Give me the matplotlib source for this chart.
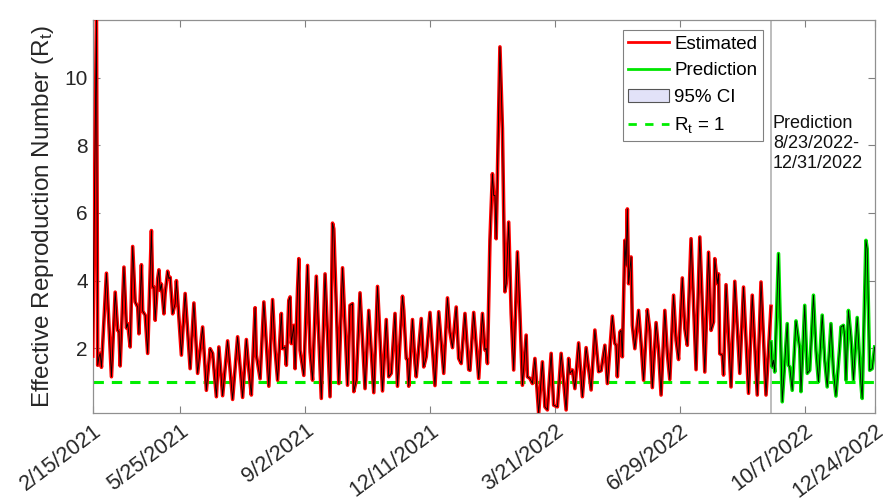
import matplotlib
matplotlib.use('Agg')
import matplotlib.pyplot as plt
from matplotlib.lines import Line2D
from matplotlib.patches import Patch

plt.rcParams['font.family'] = ['Liberation Sans', 'DejaVu Sans']

# estimated Rt (day index from start of series)
est_day = [0, 3, 4, 5, 6, 7, 11, 15, 18, 20, 21, 22, 25, 27, 28, 30, 32, 34, 36, 37,
           39, 40, 42, 44, 47, 48, 49, 50, 52, 53, 54, 55, 57, 58, 60, 61, 62, 64, 66, 67,
           71, 74, 78, 81, 84, 88, 91, 94, 96, 99, 101, 104, 108, 112, 116, 120, 123, 125, 127, 130,
           131, 134, 137, 141, 144, 146, 148, 151, 152, 154, 155, 157, 158, 159, 161, 162, 164, 165, 166, 169,
           172, 174, 176, 179, 183, 186, 190, 192, 193, 197, 200, 204, 206, 208, 209, 211, 214, 218, 221, 225,
           228, 232, 235, 237, 239, 242, 244, 248, 249, 251, 252, 253, 256, 258, 259, 263, 265, 267, 270, 274,
           277, 281, 284, 286, 288, 291, 293, 295, 298, 301, 302, 305, 309, 312, 314, 315, 316, 318, 320, 321,
           322, 323, 326, 328, 330, 331, 333, 335, 337, 340, 342, 344, 347, 348, 350, 352, 354, 357, 360, 362,
           364, 367, 369, 372, 375, 379, 381, 382, 384, 386, 389, 392, 395, 399, 402, 405, 407, 410, 412, 416,
           418, 419, 420, 422, 423, 424, 426, 427, 428, 429, 431, 432, 434, 437, 439, 441, 444, 446, 448, 451,
           453, 455, 458, 460, 462, 465, 467, 469, 472, 474, 476, 479, 483, 486, 490, 493, 495, 497, 498, 500,
           501, 502, 504, 505, 507, 511, 514, 518, 521, 525, 528, 532, 535, 539, 543]
est_rt = [1.77, 11.7, 1.5, 1.74, 1.85, 1.44, 4.22, 1.16, 3.66, 2.53, 2.5, 1.48, 4.4, 2.6, 2.73, 2.04, 5.01, 3.37, 3.22, 2.43,
          4.47, 3.1, 2.98, 1.85, 5.48, 3.81, 3.81, 2.83, 4.06, 4.32, 3.71, 3.9, 3.02, 3.62, 4.28, 4.06, 4.1, 3.02, 3.32, 4.0,
          1.8, 3.62, 1.4, 3.34, 1.26, 2.63, 0.76, 1.99, 1.85, 0.57, 2.04, 0.6, 2.22, 0.49, 2.34, 0.55, 2.26, 1.35, 0.62, 3.2,
          1.8, 1.1, 3.37, 0.88, 3.44, 1.94, 1.06, 3.03, 1.99, 2.04, 1.5, 3.42, 3.52, 2.14, 2.68, 1.4, 3.76, 4.65, 1.94, 1.2,
          4.45, 1.89, 1.06, 4.13, 0.52, 4.2, 0.57, 5.7, 5.53, 0.96, 4.38, 0.91, 3.27, 3.32, 0.72, 1.06, 3.64, 0.81, 3.12, 0.69,
          3.83, 0.74, 2.85, 1.16, 1.26, 3.03, 0.88, 3.54, 3.12, 1.7, 1.67, 0.88, 2.85, 1.55, 1.16, 2.88, 1.45, 1.75, 3.06, 0.9,
          3.08, 1.26, 3.49, 2.48, 2.02, 3.22, 1.7, 1.55, 3.03, 1.37, 1.35, 3.06, 1.11, 3.03, 1.95, 2.0, 1.55, 5.19, 7.16, 6.52,
          6.52, 5.24, 10.91, 8.5, 3.67, 3.91, 5.73, 3.03, 1.36, 4.85, 3.03, 0.91, 2.39, 1.16, 1.11, 0.96, 1.7, 0.08, 1.6, 0.27,
          0.18, 1.85, 0.32, 0.27, 1.85, 0.18, 1.7, 1.26, 1.36, 0.81, 2.16, 0.57, 2.02, 0.77, 2.54, 1.31, 1.34, 2.09, 0.96, 2.95,
          2.14, 2.09, 1.16, 2.48, 2.53, 1.75, 5.19, 4.45, 6.12, 3.91, 4.7, 2.68, 1.99, 3.12, 2.14, 1.06, 3.14, 2.53, 0.84, 2.76,
          1.94, 0.62, 3.12, 1.84, 1.08, 3.57, 2.24, 1.67, 4.08, 2.58, 2.09, 5.24, 1.37, 5.29, 1.3, 4.84, 2.53, 2.78, 4.65, 3.91,
          4.2, 1.84, 1.8, 1.21, 3.88, 0.86, 3.98, 1.26, 3.81, 0.67, 3.57, 0.62, 3.96, 0.62, 3.24]

# predicted Rt, 8/23/2022 - 12/31/2022
pred_day = [543, 544, 545, 546, 549, 552, 556, 557, 558, 560, 563, 564, 566, 567, 570, 572, 574, 577, 579, 581,
            584, 586, 588, 591, 593, 595, 598, 599, 601, 602, 603, 605, 607, 609, 612, 615, 616, 619, 620, 622,
            624, 626]
pred_rt = [2.19, 1.45, 1.65, 1.3, 4.8, 0.42, 2.73, 1.5, 1.45, 0.76, 2.81, 2.53, 1.99, 0.72, 3.27, 1.26, 1.35, 3.57, 1.94, 1.01,
           2.98, 1.65, 0.86, 2.73, 1.3, 0.59, 2.04, 2.63, 2.68, 2.33, 1.06, 3.12, 2.33, 1.06, 2.91, 0.96, 0.52, 5.19, 4.94, 1.35,
           1.4, 2.04]

tick_day = [0, 70, 170, 270, 370, 470, 570, 626]
tick_label = ['2/15/2021', '5/25/2021', '9/2/2021', '12/11/2021', '3/21/2022',
              '6/29/2022', '10/7/2022', '12/24/2022']
pred_start = 543
rt_threshold = 1

fig = plt.figure(figsize=(8.88, 5.04), dpi=100)
ax = fig.add_axes([0.1044, 0.180, 0.8806, 0.780])

ax.plot(est_day, est_rt, color='#ff0000', lw=2.6, zorder=3)
ax.plot(pred_day, pred_rt, color='#00e600', lw=2.6, zorder=3)
# 95% CI bounds are very tight, edges sit on top of the estimate
ax.plot(est_day, est_rt, color='k', lw=0.6, zorder=4)
ax.plot(pred_day, pred_rt, color='k', lw=0.6, zorder=4)

ax.axhline(rt_threshold, color='#00ee00', lw=2.2, ls=(0, (3.4, 2.6)), zorder=2)
ax.axvline(pred_start, color='#b8b8b8', lw=1.3, zorder=1)

ax.text(pred_start + 1.5, 8.9, 'Prediction\n8/23/2022-\n12/31/2022', fontsize=13,
        va='top', ha='left', linespacing=1.25, color='#111111')

ax.set_xlim(0, 626)
ax.set_ylim(0.08, 11.7)
ax.set_yticks([2, 4, 6, 8, 10])
ax.set_xticks(tick_day)
ax.set_xticklabels(tick_label, rotation=37, ha='right', rotation_mode='anchor')
ax.tick_params(direction='in', top=True, right=True, length=5, width=0.8,
               color='#808080', labelsize=15, labelcolor='#262626')
ax.tick_params(axis='x', pad=5, labelsize=15.5)
for s in ax.spines.values():
    s.set_color('#909090')
    s.set_linewidth(0.9)

ax.set_ylabel(r'Effective Reproduction Number ($\mathregular{R_t}$)', fontsize=17.5,
              color='#262626', labelpad=6)

handles = [Line2D([], [], color='#ff0000', lw=2),
           Line2D([], [], color='#00e600', lw=2),
           Patch(facecolor='#e2e2f8', edgecolor='#555555', lw=0.8),
           Line2D([], [], color='#00ee00', lw=2, ls=(0, (3, 3)))]
labels = ['Estimated', 'Prediction', '95% CI', r'$\mathregular{R_t}$ = 1']
leg = ax.legend(handles, labels, loc='upper right', bbox_to_anchor=(0.857, 0.975),
                borderaxespad=0, fontsize=13.5, fancybox=False, framealpha=1,
                edgecolor='#808080', handlelength=2.2, handletextpad=0.25,
                labelspacing=0.5, borderpad=0.3)
leg.get_frame().set_linewidth(0.8)

fig.savefig('out.png', dpi=100)
